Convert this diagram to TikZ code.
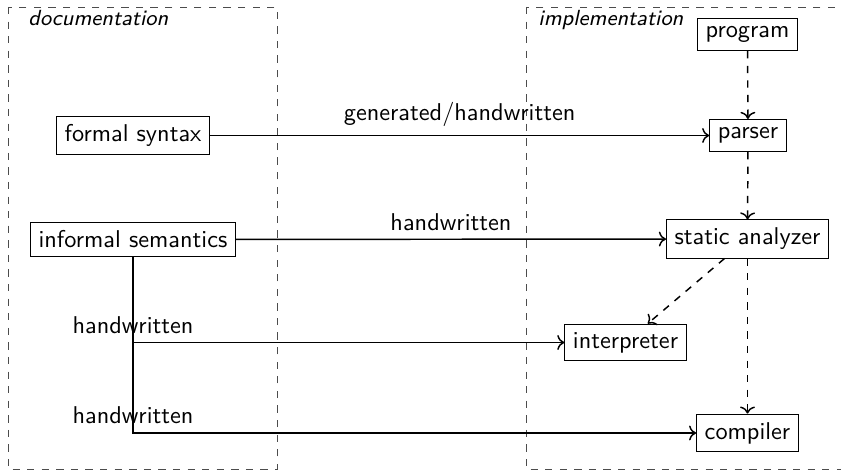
\documentclass[tikz,border=0pt]{standalone}
\usetikzlibrary{arrows.meta}
\begin{document}
\begin{tikzpicture}[x=0.4115pt,y=-0.4115pt,font=\sffamily,
  box/.style={draw,inner sep=3.33pt},
  frame/.style={draw=black!70,dashed},
  ftitle/.style={font=\sffamily\small\itshape,anchor=base west,inner sep=0pt},
  flow/.style={->,semithick},
  dflow/.style={->,dashed,semithick}]
\useasboundingbox (0,0) rectangle (841,472);
\clip (0,0) rectangle (841,472);
% frames
\draw[frame] (8,7) rectangle (277,469);
\draw[frame] (526,7) rectangle (860,469);
\node[ftitle] (doc) at (28,26) {documentation};
\node[ftitle] (imp) at (538,25.5) {implementation};
% nodes
\node[box] (prog) at (747.5,34.5) {program};
\node[box] (pars) at (748,135.5) {parser};
\node[box] (fs) at (133,135.5) {formal syntax};
\node[box] (sem) at (133,239.5) {informal semantics};
\node[box] (sa) at (747.5,239) {static analyzer};
\node[box] (interp) at (625.5,342.5) {interpreter};
\node[box] (comp) at (747.5,433) {compiler};
% solid connectors
\draw[flow] (fs) -- node[above] {generated/handwritten} (pars);
\draw[flow] (sem) -- node[above] {handwritten} (sa);
\draw[flow] (sem.south) |- node[above] {handwritten} (interp.west);
\draw[flow] (sem.south) |- node[above] {handwritten} (comp.west);
% dashed connectors
\draw[dflow] (prog) -- (pars);
\draw[dflow] (pars) -- (sa);
\draw[dflow] (sa) -- (interp);
\draw[dflow] (sa) -- (comp);
\end{tikzpicture}
\end{document}
